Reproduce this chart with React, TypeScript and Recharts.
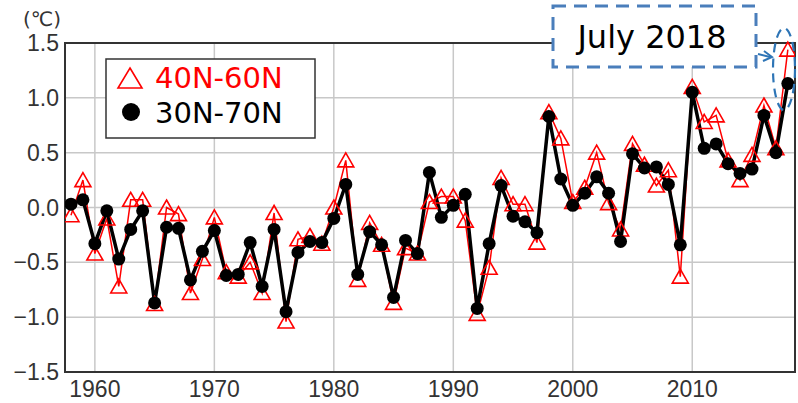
import {
  LineChart,
  Line,
  XAxis,
  YAxis,
  CartesianGrid,
  ReferenceArea,
} from "recharts";

const years = [
  1958, 1959, 1960, 1961, 1962, 1963, 1964, 1965, 1966, 1967, 1968, 1969,
  1970, 1971, 1972, 1973, 1974, 1975, 1976, 1977, 1978, 1979, 1980, 1981,
  1982, 1983, 1984, 1985, 1986, 1987, 1988, 1989, 1990, 1991, 1992, 1993,
  1994, 1995, 1996, 1997, 1998, 1999, 2000, 2001, 2002, 2003, 2004, 2005,
  2006, 2007, 2008, 2009, 2010, 2011, 2012, 2013, 2014, 2015, 2016, 2017,
  2018,
];

// 40N-60N (red triangles)
const band40to60 = [
  -0.07, 0.25, -0.42, -0.1, -0.72, 0.07, 0.07, -0.88, 0.0, -0.06, -0.78, -0.47,
  -0.09, -0.59, -0.63, -0.5, -0.78, -0.05, -1.04, -0.29, -0.26, -0.33, 0.0, 0.43,
  -0.66, -0.14, -0.34, -0.87, -0.37, -0.42, 0.05, 0.1, 0.1, -0.12, -0.97, -0.55,
  0.27, 0.03, 0.03, -0.32, 0.87, 0.63, 0.05, 0.18, 0.5, 0.04, -0.2, 0.58,
  0.39, 0.2, 0.34, -0.63, 1.1, 0.78, 0.84, 0.43, 0.25, 0.48, 0.93, 0.54,
  1.44,
];

// 30N-70N (black dots)
const band30to70 = [
  0.03, 0.07, -0.33, -0.03, -0.47, -0.2, -0.03, -0.87, -0.18, -0.19, -0.66, -0.4,
  -0.21, -0.62, -0.61, -0.32, -0.72, -0.2, -0.95, -0.41, -0.31, -0.32, -0.1, 0.21,
  -0.61, -0.22, -0.34, -0.82, -0.3, -0.42, 0.32, -0.09, 0.02, 0.12, -0.92, -0.33,
  0.2, -0.08, -0.13, -0.23, 0.83, 0.26, 0.02, 0.13, 0.28, 0.13, -0.31, 0.49,
  0.36, 0.37, 0.21, -0.34, 1.05, 0.54, 0.58, 0.4, 0.31, 0.35, 0.84, 0.5,
  1.13,
];

const xTicks = [1960, 1970, 1980, 1990, 2000, 2010];
const yTicks = [-1.5, -1.0, -0.5, 0.0, 0.5, 1.0, 1.5];

const data = years.map((year, i) => ({
  year,
  red: band40to60[i],
  black: band30to70[i],
}));

const axisFont = "'Liberation Sans', Arial, sans-serif";
const legendFont = "'DejaVu Sans', sans-serif";

const fmtY = (v: number) => (v < 0 ? "\u2212" + Math.abs(v).toFixed(1) : v.toFixed(1));

function Triangle(props: any) {
  const { cx, cy, index } = props;
  if (cx == null || cy == null) return <g key={index} />;
  return (
    <path
      key={index}
      d={`M${cx},${cy - 7.5} L${cx + 8},${cy + 6.5} L${cx - 8},${cy + 6.5} Z`}
      fill="none"
      stroke="#ff0000"
      strokeWidth={1.6}
    />
  );
}

function App() {
  return (
    <div style={styles.wrap}>
      <LineChart
        width={798}
        height={403}
        data={data}
        margin={{ top: 43, right: 3, bottom: 0, left: 0 }}
      >
        <CartesianGrid stroke="#c8c8c8" strokeWidth={1.5} />
        <XAxis
          dataKey="year"
          type="number"
          domain={[1957.5, 2018.6]}
          ticks={xTicks}
          allowDataOverflow
          height={31}
          tickLine={false}
          axisLine={false}
          tickSize={0}
          tickMargin={9}
          tick={{ fill: "#333", fontSize: 23, fontFamily: axisFont }}
        />
        <YAxis
          type="number"
          domain={[-1.5, 1.5]}
          ticks={yTicks}
          width={65}
          tickLine={false}
          axisLine={false}
          tickSize={0}
          tickMargin={6}
          tickFormatter={fmtY}
          tick={{ fill: "#333", fontSize: 23, fontFamily: axisFont }}
        />
        <ReferenceArea
          x1={1957.5}
          x2={2018.6}
          y1={-1.5}
          y2={1.5}
          fill="none"
          stroke="#333"
          strokeWidth={2}
        />
        <Line
          dataKey="red"
          stroke="#ff0000"
          strokeWidth={1.5}
          dot={<Triangle />}
          isAnimationActive={false}
        />
        <Line
          dataKey="black"
          stroke="#000"
          strokeWidth={3.5}
          dot={{ r: 6.5, fill: "#000", stroke: "#000", strokeWidth: 0 }}
          isAnimationActive={false}
        />
      </LineChart>
      <svg width={798} height={403} style={styles.overlay}>
        <text
          x={42}
          y={26}
          textAnchor="middle"
          fontSize={20}
          fontFamily={legendFont}
          fill="#333"
        >
          (℃)
        </text>
        <rect x={106} y={59} width={209} height={79} fill="#fff" stroke="#333" strokeWidth={1.5} />
        <path d="M130,68 L142,88 L118,88 Z" fill="none" stroke="#ff0000" strokeWidth={1.6} />
        <text x={155} y={88} fontSize={29} fontFamily={legendFont} fill="#ff0000">
          40N-60N
        </text>
        <circle cx={131} cy={112} r={9} fill="#000" />
        <text x={155} y={123} fontSize={29} fontFamily={legendFont} fill="#000">
          30N-70N
        </text>
        <rect
          x={553}
          y={6}
          width={203}
          height={61}
          fill="#fff"
          stroke="#4a7ebb"
          strokeWidth={3}
          strokeDasharray="13 8"
        />
        <text x={652} y={48} textAnchor="middle" fontSize={32} fontFamily={legendFont} fill="#000">
          July 2018
        </text>
        <line x1={758} y1={54} x2={770} y2={57} stroke="#2e75b6" strokeWidth={2} />
        <path d="M764,51 L772,57 L763,61" fill="none" stroke="#2e75b6" strokeWidth={2} />
        <ellipse
          cx={784}
          cy={69}
          rx={11}
          ry={41}
          fill="none"
          stroke="#2e75b6"
          strokeWidth={2.2}
          strokeDasharray="9 6"
        />
      </svg>
    </div>
  );
}

const styles: Record<string, React.CSSProperties> = {
  wrap: {
    position: "absolute",
    left: 0,
    top: 0,
    width: 798,
    height: 403,
    background: "#fff",
  },
  overlay: { position: "absolute", left: 0, top: 0, pointerEvents: "none" },
};

export default App;
